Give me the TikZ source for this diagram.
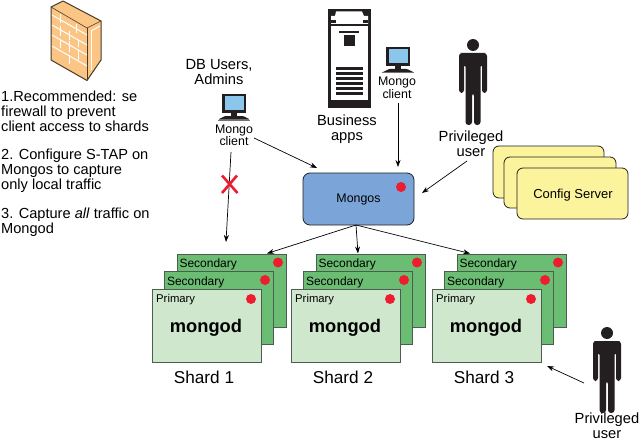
\documentclass[tikz,border=0pt]{standalone}
\usepackage{fontspec}
\setmainfont{Liberation Sans}
\usetikzlibrary{arrows.meta}
\definecolor{secgreen}{HTML}{6ABD73}
\definecolor{prigreen}{HTML}{CFE7CD}
\definecolor{boxedge}{HTML}{4D5B50}
\definecolor{dotred}{HTML}{ED1C2E}
\definecolor{mongosblue}{HTML}{7BA5D9}
\definecolor{cfgyellow}{HTML}{FBF49C}
\definecolor{brick}{HTML}{FBC585}
\definecolor{brickedge}{HTML}{4A3A28}
\definecolor{screenblue}{HTML}{8CC6EC}
\definecolor{inkblack}{HTML}{231F20}
\tikzset{
  x=1pt,y=-1pt,
  conn/.style={draw=black,line width=0.7pt,-{Stealth[length=7pt,width=5pt]}},
  lbl/.style={font=\fontsize{14.7}{15}\selectfont,align=center,inner sep=0pt},
  smalllbl/.style={font=\fontsize{12.4}{9.6}\selectfont,align=center,inner sep=0pt},
  notes/.style={font=\fontsize{14.6}{14.7}\selectfont,align=left,inner sep=0pt,anchor=north west},
  secbox/.style={draw=boxedge,line width=1pt,fill=secgreen},
  pribox/.style={draw=boxedge,line width=1pt,fill=prigreen},
  reddot/.style={fill=dotred,draw=none},
  cfgbox/.style={draw=inkblack,line width=0.8pt,fill=cfgyellow,rounded corners=6pt},
  pics/person/.style={code={
    \fill[inkblack] (0,-8) circle (6);
    \fill[inkblack,rounded corners=3pt] (-14,8) -- (-14,0) -- (-10,0) -- (10,0) -- (14,0) -- (14,40)
      -- (9,40) -- (9,11) -- (7.5,11) -- (7.5,72) -- (1,72) -- (1,40) -- (-1,40) -- (-1,72) -- (-7.5,72) -- (-7.5,11) -- (-9,11) -- (-9,40) -- (-14,40) -- cycle;
  }},
  pics/computer/.style={code={
    \fill[inkblack] (-12,-10) rectangle (12,9);
    \fill[screenblue] (-9.5,-7.5) rectangle (9.5,6);
    \fill[inkblack] (-3,9) rectangle (3,12);
    \fill[inkblack,rounded corners=1pt] (-9,12) -- (9,12) -- (16,15.5) -- (-16,15.5) -- cycle;
    \fill[black!55] (-16,15.5) rectangle (16,16.5);
  }},
  pics/shard/.style={code={
    \draw[secbox] (25,-35) rectangle (134,38);
    \fill[reddot] (126,-26.5) circle (5);
    \node[inner sep=0pt,font=\fontsize{12}{13}\selectfont,anchor=west] at (24,-25) {\ Secondary};
    \draw[secbox] (12,-18) rectangle (121,55);
    \fill[reddot] (113,-9) circle (5);
    \node[inner sep=0pt,font=\fontsize{12}{13}\selectfont,anchor=west] at (11.5,-7) {\ Secondary};
    \draw[pribox] (0,0) rectangle (109,73);
    \fill[reddot] (99,10) circle (5);
    \node[inner sep=0pt,font=\fontsize{11.3}{13}\selectfont,anchor=west] at (4,11) {Primary};
    \node[inner sep=0pt,font=\fontsize{18.3}{20}\bfseries\selectfont] at (54,39) {mongod};
    \node[inner sep=0pt,font=\fontsize{17.2}{20}\selectfont] at (52,88) {#1};
  }}
}
\begin{document}
\begin{tikzpicture}
\useasboundingbox (0,0) rectangle (643,444);
% firewall
\draw[fill=brick,draw=brickedge,line width=1pt,line join=round] (51,7) -- (63,1) -- (101,21) -- (101,60) -- (87,80.5) -- (51,60) -- cycle;
\draw[brickedge,line width=0.6pt] (87,28) -- (87,80.5);
\draw[brickedge,line width=0.6pt] (87,28) -- (51,7);
\draw[brickedge,line width=0.6pt] (87,28) -- (101,21);
\begin{scope}[white,line width=1pt]
  \draw (52,15) -- (87,35);
  \draw (52,25) -- (87,45);
  \draw (52,35) -- (87,55);
  \draw (52,46) -- (87,66);
  \draw (60,14) -- (60,23);
  \draw (76,24) -- (76,33);
  \draw (69,31) -- (69,40);
  \draw (78,47) -- (78,40);
  \draw (60,36) -- (60,26);
  \draw (69,52) -- (69,41);
  \draw (60,40) -- (60,48);
  \draw (78,50) -- (78,60);
  \draw (69,55) -- (69,64);
  \draw (91,31) -- (91,70);
  \draw (91,31) -- (100,26);
\end{scope}
% notes
\node[notes] (n1) at (1,91) {1.Recommended: se\\firewall to prevent\\client access to shards};
\node[notes] (n2) at (1,149) {2. Configure S-TAP on\\Mongos to capture\\only local traffic};
\node[notes] (n3) at (1,208) {3. Capture \textit{all} traffic on\\Mongod};
% server
\fill[inkblack] (328,9) rectangle (371,108);
\fill[white] (331,26) rectangle (368,100);
\fill[white] (336,11.5) -- (362,11.5) -- (364,16) -- (368,16) -- (368,24) -- (331,24) -- (331,16) -- (335,16) -- cycle;
\fill[inkblack] (331,20) rectangle (336,23.5);
\fill[inkblack] (363,20) rectangle (368,23.5);
\fill[inkblack] (339,31) rectangle (359,33);
\fill[inkblack] (344,35.5) rectangle (355,46);
\foreach \yy in {67.5,72.5,77.5,82.5,87.5,92.5}
  \fill[inkblack] (336,\yy) rectangle (363,\yy+2.6);
\fill[inkblack] (328,101) rectangle (371,108);
\node[lbl] (biz) at (347,129.5) {Business\\apps};
% clients
\pic at (234,104) {computer};
\node[smalllbl] (c1) at (234,135.5) {Mongo\\client};
\pic at (398,57) {computer};
\node[smalllbl] (c2) at (397,88) {Mongo\\client};
\node[lbl] (db) at (219,72.5) {DB Users,\\Admins};
% people
\pic at (473,53) {person};
\node[lbl] (pu1) at (471,143.5) {Privileged\\user};
\pic at (607,341) {person};
\node[lbl] (pu2) at (607,425.5) {Privileged\\user};
% config
\draw[cfgbox] (493,146) rectangle (604,198);
\draw[cfgbox] (504,157) rectangle (616,208);
\draw[cfgbox] (517,168) rectangle (628,219);
\node[inner sep=0pt,font=\fontsize{13}{14}\selectfont] (cfg) at (573,195) {Config Server};
% mongos
\fill[mongosblue,draw=inkblack,line width=0.8pt,rounded corners=7pt] (303,173) rectangle (414,225);
\node[inner sep=0pt,font=\fontsize{12.4}{13}\selectfont] (mongos) at (358.5,199.5) {Mongos};
\fill[reddot] (401,187) circle (5);
% shards
\pic at (152,289) {shard={Shard 1}};
\pic at (291,289) {shard={Shard 2}};
\pic at (432,289) {shard={Shard 3}};
% connector ends
\coordinate (a1s) at (254,138);
\coordinate (a1e) at (317,168);
\coordinate (a2s) at (231,152);
\coordinate (a2e) at (226,242);
\coordinate (a3s) at (398,103);
\coordinate (a3e) at (398,167);
\coordinate (a4s) at (467,161);
\coordinate (a4e) at (422,193);
\coordinate (m) at (356,225);
\coordinate (s1) at (267,253.5);
\coordinate (s2) at (358,253.5);
\coordinate (s3) at (470,253.5);
\coordinate (a5s) at (584,383);
\coordinate (a5e) at (547,366);
\draw[conn] (a1s) -- (a1e);
\draw[conn] (a2s) -- (a2e);
\draw[conn] (a3s) -- (a3e);
\draw[conn] (a4s) -- (a4e);
\draw[conn] (m) -- (s1);
\draw[conn] (m) -- (s2);
\draw[conn] (m) -- (s3);
\draw[conn] (a5s) -- (a5e);
% red X
\draw[dotred,line width=2.6pt] (222,175.5) -- (237.5,193);
\draw[dotred,line width=2.6pt] (237,175.5) -- (222,193);
\end{tikzpicture}
\end{document}
